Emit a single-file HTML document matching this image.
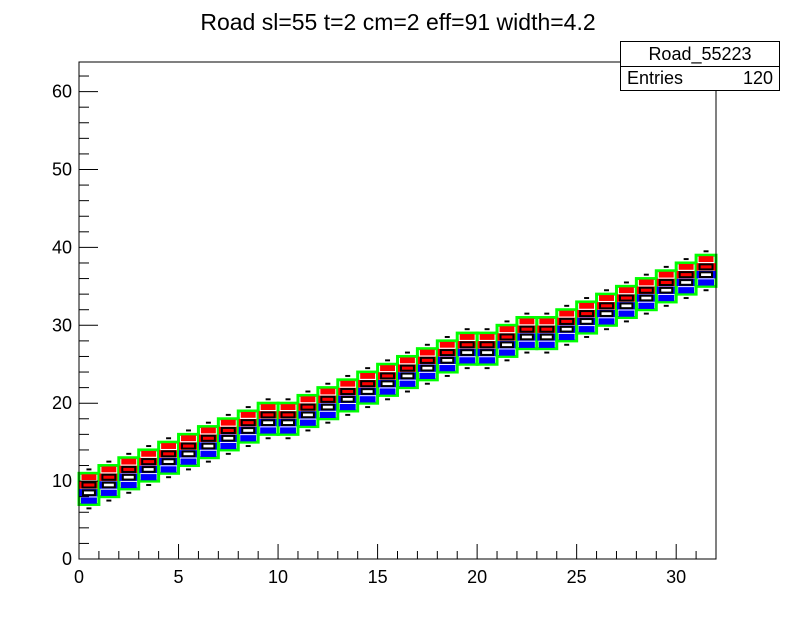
<!DOCTYPE html>
<html><head><meta charset="utf-8"><style>
body{margin:0;background:#fff;}
svg{display:block;font-family:"Liberation Sans",Arial,sans-serif;}
</style></head><body>
<svg id="c" width="796" height="622">
<rect width="796" height="622" fill="#fff"/>
<text x="398" y="30" text-anchor="middle" font-size="23">Road sl=55 t=2 cm=2 eff=91 width=4.2</text>
<g id="marks"></g>
<rect x="79" y="62" width="637" height="497" fill="none" stroke="#000" stroke-width="1"/>
<g id="axes"></g>
<g>
<rect x="620.5" y="41.5" width="159" height="49" fill="#fff" stroke="#000"/>
<line x1="620" y1="66.5" x2="780" y2="66.5" stroke="#000"/>
<text x="700" y="60" text-anchor="middle" font-size="18">Road_55223</text>
<text x="627" y="84" font-size="18">Entries</text>
<text x="773" y="84" text-anchor="end" font-size="18">120</text>
</g>
</svg>
<script>
// data: low y-bin of each x column's road band (x bins 0..31)
const xBins=[0,1,2,3,4,5,6,7,8,9,10,11,12,13,14,15,16,17,18,19,20,21,22,23,24,25,26,27,28,29,30,31];
const bandLow=[7,8,9,10,11,12,13,14,15,16,16,17,18,19,20,21,22,23,24,25,25,26,27,27,28,29,30,31,32,33,34,35];
const blueSize=[0.8,0.95];
const blackSize=[0.75,0.65];
const redSize=[0.95,0.75];
const xTicks=[0,5,10,15,20,25,30];
const yTicks=[0,10,20,30,40,50,60];

const NS="http://www.w3.org/2000/svg";
const X0=79,X1=716,Y0=559,Y1=62,XMAX=32,YMAX=63.8;
const sx=v=>X0+(X1-X0)*v/XMAX;
const sy=v=>Y0-(Y0-Y1)*v/YMAX;
const marks=document.getElementById('marks'),axes=document.getElementById('axes');
function mk(t,a,p){const e=document.createElementNS(NS,t);for(const k in a)e.setAttribute(k,a[k]);(p||marks).appendChild(e);return e;}
function box(xb,yb,f,fill,stroke,name){
  const cx=sx(xb+0.5),cy=sy(yb+0.5),w=(sx(1)-sx(0))*f,h=(sy(0)-sy(1))*f;
  const r=mk('rect',{x:cx-w/2,y:cy-h/2,width:w,height:h,fill:fill,stroke:stroke,'stroke-width':2});
  
  
}
xBins.forEach((xb,i)=>{
  const L=bandLow[i];
  box(xb,L-1,0.25,'#000','none','black-dot-low');
  box(xb,L+4,0.25,'#000','none','black-dot-high');
  const g=mk('rect',{x:sx(xb),y:sy(L+4),width:sx(1)-sx(0),height:sy(L)-sy(L+4),fill:'none',stroke:'#00ff00','stroke-width':3});
  
  
  box(xb,L,blueSize[0],'#0000ff','none','blue-box');
  box(xb,L+1,blueSize[1],'#0000ff','none','blue-box');
  box(xb,L+2,redSize[0],'#ff0000','none','red-box');
  box(xb,L+3,redSize[1],'#ff0000','none','red-box');
  box(xb,L+1,blackSize[0]*0.8,'#fff','#000','black-box');
  box(xb,L+2,blackSize[1],'none','#000','black-box');
});
// axes
for(let v=0;v<=32;v++){const maj=v%5===0;const l=mk('line',{x1:sx(v),x2:sx(v),y1:Y0,y2:Y0-(maj?15:8),stroke:'#000'},axes);
  
  }
for(let v=0;v<=62;v+=2){const maj=v%10===0;const l=mk('line',{x1:X0,x2:X0+(maj?19:10),y1:sy(v),y2:sy(v),stroke:'#000'},axes);
  
  }
xTicks.forEach(v=>{const t=mk('text',{x:sx(v),y:583,'text-anchor':'middle','font-size':18},axes);t.textContent=v;
  
  });
yTicks.forEach(v=>{const t=mk('text',{x:72,y:sy(v)+6,'text-anchor':'end','font-size':18},axes);t.textContent=v;
  
  });
</script>
</body></html>
